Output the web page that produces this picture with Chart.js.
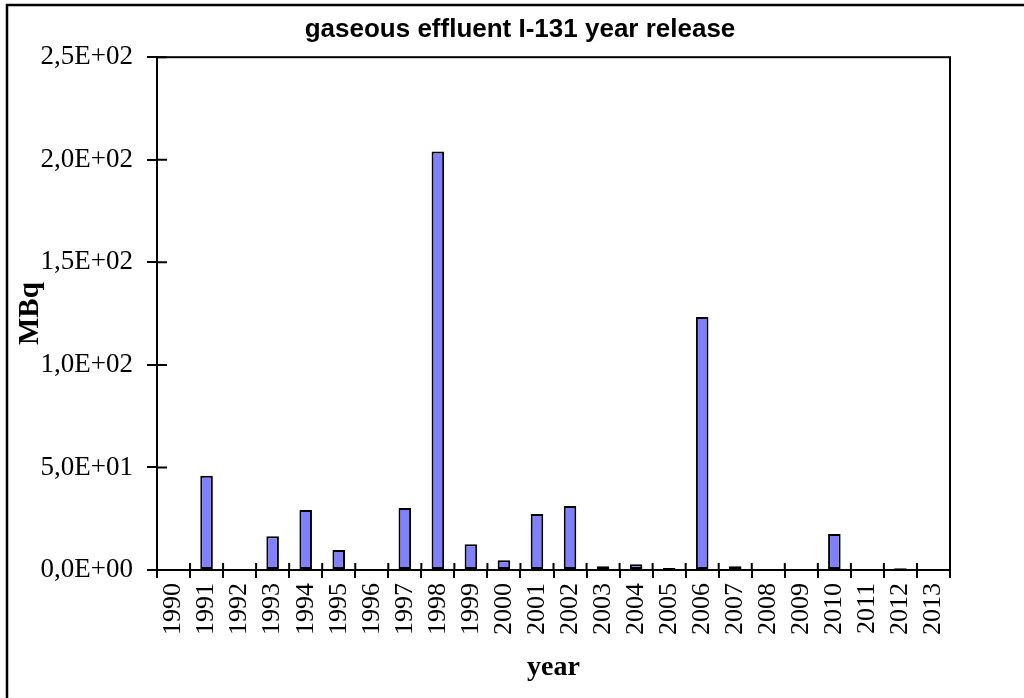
<!DOCTYPE html>
<html>
<head>
<meta charset="utf-8">
<script src="https://cdn.jsdelivr.net/npm/chart.js@4"></script>
<style>
  html, body { margin: 0; padding: 0; background: #fff; }
  #wrap { width: 1024px; height: 698px; }
</style>
</head>
<body>
<div id="wrap"><canvas id="chart" width="1024" height="698"></canvas></div>
<script>
const years = ["1990", "1991", "1992", "1993", "1994", "1995", "1996", "1997", "1998", "1999", "2000", "2001",
  "2002", "2003", "2004", "2005", "2006", "2007", "2008", "2009", "2010", "2011", "2012", "2013"];
const releaseMBq = [0, 46, 0, 16.5, 29.3, 9.7, 0, 30.2, 204, 12.6, 4.7, 27.3,
  31.2, 1.8, 2.8, 1, 123.4, 1.8, 0, 0, 17.5, 0, 0.8, 0];
const yMin = 0;
const yMax = 250;
const yStep = 50;

// 2,5E+02 style labels
function sci(v) {
  if (v === 0) return "0,0E+00";
  const e = Math.floor(Math.log10(v));
  const m = v / Math.pow(10, e);
  return m.toFixed(1).replace(".", ",") + "E+" + String(e).padStart(2, "0");
}

// frame round the plot, inner half of the ticks, outer border
const frame = {
  id: "frame",
  afterLayout(chart) {
    // title is centred on the whole picture, not on the plot
    if (chart.titleBlock) {
      chart.titleBlock.left = 0;
      chart.titleBlock.right = 1040;
    }
  },
  afterDraw(chart) {
    const { ctx, chartArea: a, scales: { x, y } } = chart;
    ctx.save();
    ctx.strokeStyle = "#000";
    ctx.lineWidth = 2;
    ctx.strokeRect(a.left, a.top, a.right - a.left, a.bottom - a.top);
    ctx.beginPath();
    y.ticks.forEach((t, i) => {
      const py = y.getPixelForTick(i);
      ctx.moveTo(a.left, py);
      ctx.lineTo(a.left + 10, py);
    });
    for (let i = 0; i <= years.length; i++) {
      const px = x.getPixelForValue(i - 0.5);
      ctx.moveTo(px, a.bottom);
      ctx.lineTo(px, a.bottom - 7);
    }
    ctx.stroke();
    ctx.lineWidth = 2.5;
    ctx.strokeRect(7, 5, chart.width + 20, chart.height + 20);
    ctx.restore();
  }
};

new Chart(document.getElementById("chart"), {
  type: "bar",
  data: {
    labels: years,
    datasets: [{
      label: "MBq",
      data: releaseMBq,
      backgroundColor: "#8080ff",
      borderColor: "#000",
      borderWidth: 2,
      borderSkipped: false,
      barPercentage: 0.38,
      categoryPercentage: 1
    }]
  },
  options: {
    responsive: false,
    animation: false,
    layout: { padding: { left: 8, right: 74, top: 0, bottom: 0 } },
    plugins: {
      legend: { display: false },
      tooltip: { enabled: false },
      title: {
        display: true,
        text: "gaseous effluent I-131 year release",
        color: "#000",
        font: { family: "Liberation Sans", size: 26, weight: "bold" },
        padding: { top: 14, bottom: 12 }
      }
    },
    scales: {
      x: {
        afterFit(s) { s.height = 128; },
        grid: { offset: true, drawOnChartArea: false, color: "#000", lineWidth: 2, tickLength: 8 },
        border: { color: "#000", width: 2 },
        ticks: {
          color: "#000",
          font: { family: "Liberation Serif", size: 26 },
          minRotation: 90,
          maxRotation: 90,
          padding: 5,
          autoSkip: false
        },
        title: {
          display: true,
          text: "year",
          color: "#000",
          font: { family: "Liberation Serif", size: 28, weight: "bold" },
          padding: { top: 0, bottom: 13 }
        }
      },
      y: {
        min: yMin,
        max: yMax,
        afterFit(s) { s.width = 149; },
        grid: { drawOnChartArea: false, color: "#000", lineWidth: 2, tickLength: 10 },
        border: { color: "#000", width: 2 },
        ticks: {
          stepSize: yStep,
          color: "#000",
          font: { family: "Liberation Serif", size: 27 },
          padding: 14,
          callback: (v) => sci(v)
        },
        title: {
          display: true,
          text: "MBq",
          color: "#000",
          font: { family: "Liberation Serif", size: 29, weight: "bold" },
          padding: { top: 5, bottom: 0 }
        }
      }
    }
  },
  plugins: [frame]
});
</script>
</body>
</html>
